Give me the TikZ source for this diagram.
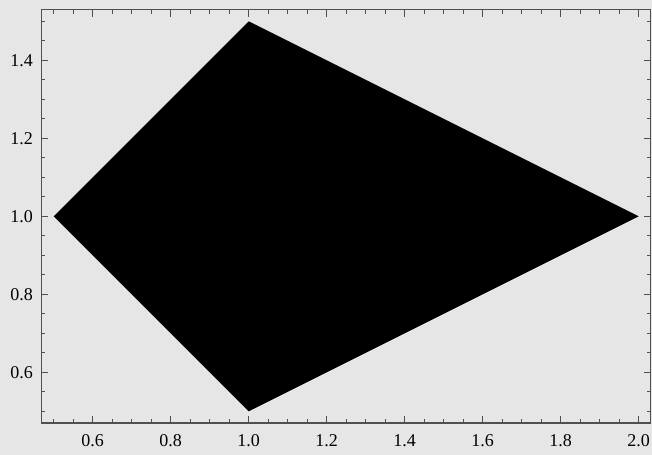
\documentclass[tikz,border=0pt]{standalone}
\usepackage{fontspec}
\setmainfont{Liberation Serif}
\definecolor{plotbg}{RGB}{230,230,230}
\definecolor{framegray}{RGB}{80,80,80}

\begin{document}
\begin{tikzpicture}[x=195pt,y=195pt,font=\fontsize{9}{11}\selectfont,
  tickmark/.style={framegray,line width=0.5pt},
  ticklabel/.style={inner sep=0pt}]

% background and margins
\fill[plotbg] (0.3623,0.3880) rectangle (2.0341,1.5546);
\useasboundingbox (0.3623,0.3880) rectangle (2.0341,1.5546);

% the quadrilateral
\fill[black] (0.5,1.0) -- (1.0,1.5) -- (2.0,1.0) -- (1.0,0.5) -- cycle;

% frame
\draw[framegray,line width=0.6pt] (0.468,0.470) rectangle (2.031,1.530);

% minor ticks, every 0.05
\foreach \i in {10,...,40}{
  \draw[tickmark] (\i/20,0.470) -- ++(0,0.0103);
  \draw[tickmark] (\i/20,1.530) -- ++(0,-0.0103);
}
\foreach \i in {10,...,30}{
  \draw[tickmark] (0.468,\i/20) -- ++(0.0103,0);
  \draw[tickmark] (2.031,\i/20) -- ++(-0.0103,0);
}

% major ticks, every 0.2
\foreach \i in {12,16,...,40}{
  \draw[tickmark] (\i/20,0.470) -- ++(0,0.018);
  \draw[tickmark] (\i/20,1.530) -- ++(0,-0.018);
}
\foreach \i in {12,16,...,28}{
  \draw[tickmark] (0.468,\i/20) -- ++(0.018,0);
  \draw[tickmark] (2.031,\i/20) -- ++(-0.018,0);
}

% tick labels
\foreach \x [count=\k] in {0.6,0.8,1.0,1.2,1.4,1.6,1.8,2.0}
  \node[ticklabel,anchor=base] (xlab\k) at (\x,0.4085) {\x};

\foreach \y [count=\k] in {0.6,0.8,1.0,1.2,1.4}
  \node[ticklabel,anchor=east] (ylab\k) at (0.4477,\y) {\y};

\end{tikzpicture}
\end{document}
